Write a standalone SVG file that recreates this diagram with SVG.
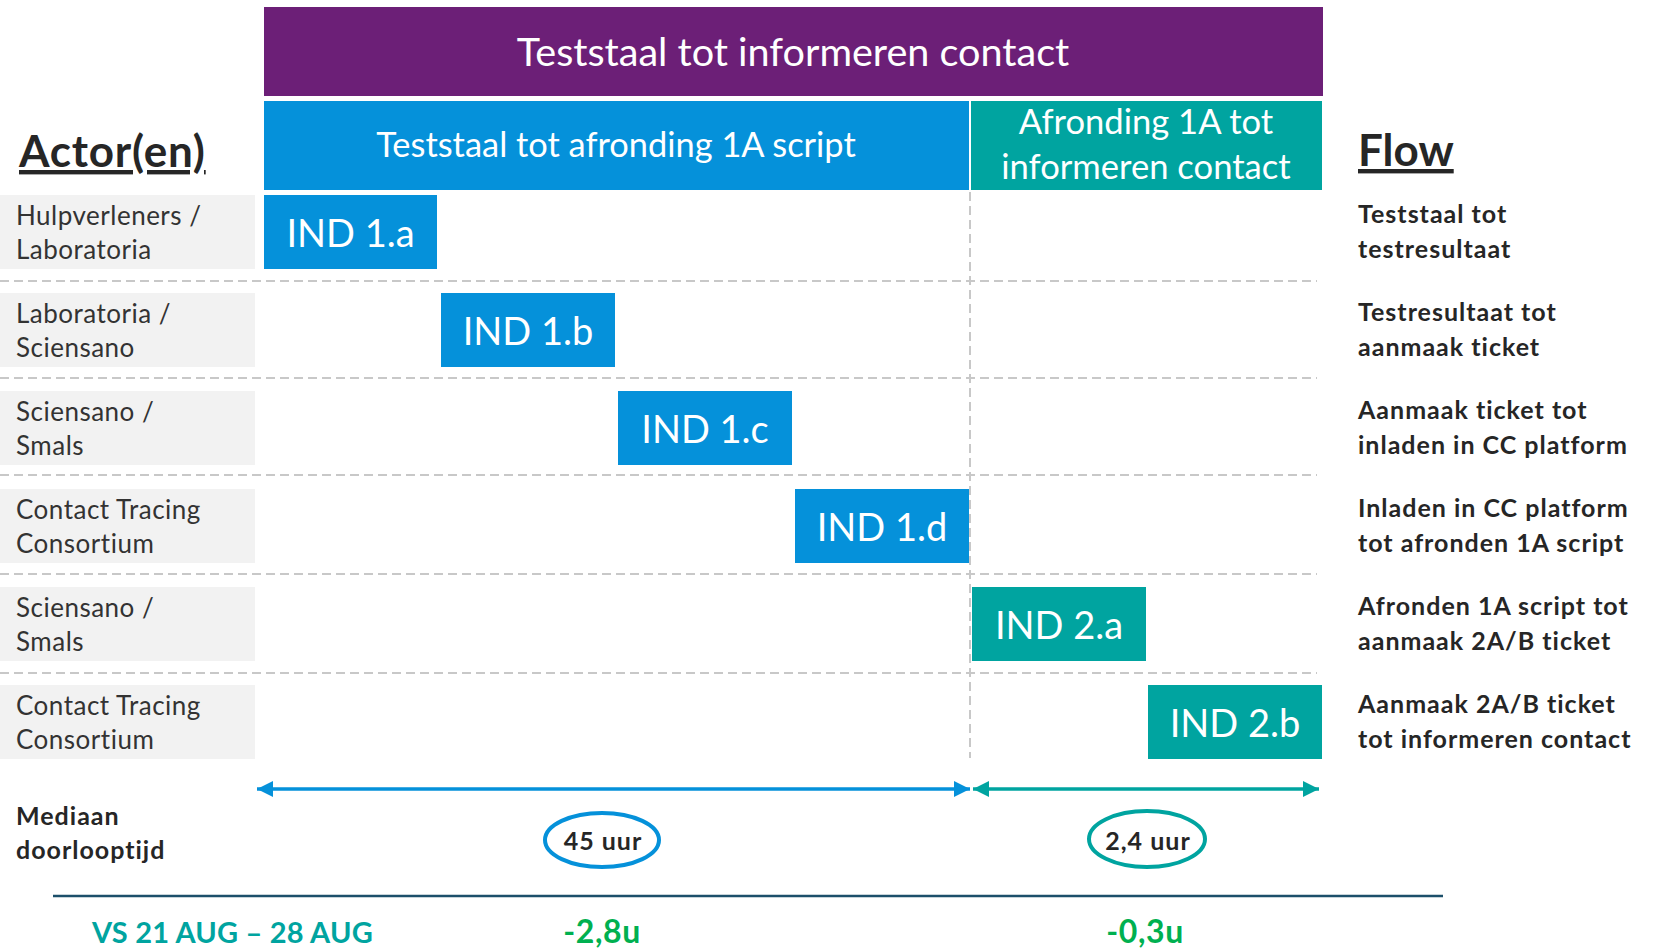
<svg xmlns="http://www.w3.org/2000/svg" width="1656" height="949" viewBox="0 0 1656 949">
<style>
.hdr{font-family:Lato,"Open Sans",sans-serif;fill:#ffffff;text-anchor:middle}
.ind{font-family:Lato,"Open Sans",sans-serif;fill:#ffffff;font-size:38px;text-anchor:middle}
.actor{font-family:Lato,"Open Sans",sans-serif;fill:#333333;font-size:26px;letter-spacing:0.5px}
.flow{font-family:Lato,"Open Sans",sans-serif;fill:#262626;font-size:25px;font-weight:bold;letter-spacing:1px}
.big{font-family:Lato,"Open Sans",sans-serif;fill:#262626;font-size:44px;font-weight:bold;text-decoration:underline}
.gray{fill:#F2F2F2}
.blue{fill:#0591DA}
.teal{fill:#00A4A0}
.dash{stroke:#C8C8C8;stroke-width:2;stroke-dasharray:9 5;fill:none}
.res{font-family:Lato,"Open Sans",sans-serif;font-weight:bold}
</style>
<defs>
<marker id="ab" viewBox="0 0 16 16" refX="16" refY="8" markerWidth="16" markerHeight="16" markerUnits="userSpaceOnUse" orient="auto-start-reverse"><path d="M0,0 L16,8 L0,16 z" fill="#0591DA"/></marker>
<marker id="at" viewBox="0 0 16 16" refX="16" refY="8" markerWidth="16" markerHeight="16" markerUnits="userSpaceOnUse" orient="auto-start-reverse"><path d="M0,0 L16,8 L0,16 z" fill="#00A4A0"/></marker>
</defs>
<rect width="1656" height="949" fill="#ffffff"/>

<g id="gridlines">
<line class="dash" x1="970" y1="192" x2="970" y2="758"/>
<line class="dash" x1="0" y1="281" x2="1317" y2="281"/>
<line class="dash" x1="0" y1="378" x2="1317" y2="378"/>
<line class="dash" x1="0" y1="475" x2="1317" y2="475"/>
<line class="dash" x1="0" y1="574" x2="1317" y2="574"/>
<line class="dash" x1="0" y1="673" x2="1317" y2="673"/>
</g>

<g id="header-main">
<rect x="264" y="7" width="1059" height="89" fill="#6C1F77"/>
<text class="hdr" x="793" y="66" font-size="39.6">Teststaal tot informeren contact</text>
</g>
<g id="header-1">
<rect class="blue" x="264" y="101" width="705" height="89"/>
<text class="hdr" x="616" y="157" font-size="34.4">Teststaal tot afronding 1A script</text>
</g>
<g id="header-2">
<rect class="teal" x="971" y="101" width="351" height="89"/>
<text class="hdr" x="1146" y="134" font-size="34.6">Afronding 1A tot</text>
<text class="hdr" x="1146" y="179" font-size="34.6">informeren contact</text>
</g>

<g id="title-actors"><text class="big" x="19" y="167" letter-spacing="0.8">Actor(en)</text></g>
<g id="title-flow"><text class="big" x="1358" y="166">Flow</text></g>

<g id="actor-1"><rect class="gray" x="0" y="195" width="255" height="74"/><text class="actor" x="16" y="225">Hulpverleners /</text><text class="actor" x="16" y="259">Laboratoria</text></g>
<g id="actor-2"><rect class="gray" x="0" y="293" width="255" height="74"/><text class="actor" x="16" y="323">Laboratoria /</text><text class="actor" x="16" y="357">Sciensano</text></g>
<g id="actor-3"><rect class="gray" x="0" y="391" width="255" height="74"/><text class="actor" x="16" y="421">Sciensano /</text><text class="actor" x="16" y="455">Smals</text></g>
<g id="actor-4"><rect class="gray" x="0" y="489" width="255" height="74"/><text class="actor" x="16" y="519">Contact Tracing</text><text class="actor" x="16" y="553">Consortium</text></g>
<g id="actor-5"><rect class="gray" x="0" y="587" width="255" height="74"/><text class="actor" x="16" y="617">Sciensano /</text><text class="actor" x="16" y="651">Smals</text></g>
<g id="actor-6"><rect class="gray" x="0" y="685" width="255" height="74"/><text class="actor" x="16" y="715">Contact Tracing</text><text class="actor" x="16" y="749">Consortium</text></g>

<g id="ind-1a"><rect class="blue" x="264" y="195" width="173" height="74"/><text class="ind" x="350.5" y="247">IND 1.a</text></g>
<g id="ind-1b"><rect class="blue" x="441" y="293" width="174" height="74"/><text class="ind" x="528" y="345">IND 1.b</text></g>
<g id="ind-1c"><rect class="blue" x="618" y="391" width="174" height="74"/><text class="ind" x="705" y="443">IND 1.c</text></g>
<g id="ind-1d"><rect class="blue" x="795" y="489" width="174" height="74"/><text class="ind" x="882" y="541">IND 1.d</text></g>
<g id="ind-2a"><rect class="teal" x="972" y="587" width="174" height="74"/><text class="ind" x="1059" y="639">IND 2.a</text></g>
<g id="ind-2b"><rect class="teal" x="1148" y="685" width="174" height="74"/><text class="ind" x="1235" y="737">IND 2.b</text></g>

<g id="flow-1"><text class="flow" x="1358" y="223">Teststaal tot</text><text class="flow" x="1358" y="258">testresultaat</text></g>
<g id="flow-2"><text class="flow" x="1358" y="321">Testresultaat tot</text><text class="flow" x="1358" y="356">aanmaak ticket</text></g>
<g id="flow-3"><text class="flow" x="1358" y="419">Aanmaak ticket tot</text><text class="flow" x="1358" y="454">inladen in CC platform</text></g>
<g id="flow-4"><text class="flow" x="1358" y="517">Inladen in CC platform</text><text class="flow" x="1358" y="552">tot afronden 1A script</text></g>
<g id="flow-5"><text class="flow" x="1358" y="615">Afronden 1A script tot</text><text class="flow" x="1358" y="650">aanmaak 2A/B ticket</text></g>
<g id="flow-6"><text class="flow" x="1358" y="713">Aanmaak 2A/B ticket</text><text class="flow" x="1358" y="748">tot informeren contact</text></g>

<g id="connectors">
<line x1="257" y1="789" x2="970" y2="789" stroke="#0591DA" stroke-width="3.5" marker-start="url(#ab)" marker-end="url(#ab)"/>
<line x1="973" y1="789" x2="1319" y2="789" stroke="#00A4A0" stroke-width="3.5" marker-start="url(#at)" marker-end="url(#at)"/>
</g>

<g id="label-mediaan"><text class="flow" x="16" y="825">Mediaan</text><text class="flow" x="16" y="859">doorlooptijd</text></g>
<g id="median-1"><ellipse cx="602" cy="840" rx="57" ry="27" fill="#ffffff" stroke="#0591DA" stroke-width="4"/><text class="flow" x="603" y="850" text-anchor="middle" letter-spacing="0.8">45 uur</text></g>
<g id="median-2"><ellipse cx="1147" cy="839" rx="58" ry="28" fill="#ffffff" stroke="#00A4A0" stroke-width="4"/><text class="flow" x="1148" y="850" text-anchor="middle" letter-spacing="0.8">2,4 uur</text></g>

<g id="separator"><line x1="53" y1="896" x2="1443" y2="896" stroke="#1C4F6A" stroke-width="2.5"/></g>
<g id="compare">
<text class="res" x="92" y="943" fill="#00A4A0" font-size="29" letter-spacing="0.2">VS 21 AUG – 28 AUG</text>
<text class="res" x="602" y="943" fill="#00B050" text-anchor="middle" font-size="32" letter-spacing="0.6">-2,8u</text>
<text class="res" x="1145" y="943" fill="#00B050" text-anchor="middle" font-size="32" letter-spacing="0.6">-0,3u</text>
</g>
</svg>
